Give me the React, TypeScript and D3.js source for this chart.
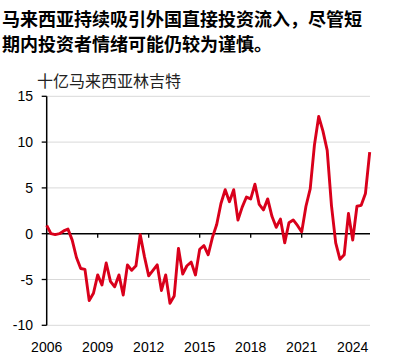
import React from "react";
import * as d3 from "d3";

const startYear = 2006;
const values: number[] = [
  0.9, 0.0, -0.1, 0.0, 0.3, 0.5, -0.7, -2.6, -3.8, -3.9,
  -7.3, -6.5, -4.5, -5.6, -3.2, -5.2, -5.8, -4.5, -6.7, -3.4,
  -4.0, -3.5, -0.1, -2.5, -4.6, -4.0, -3.4, -6.2, -4.5, -7.6,
  -6.8, -1.6, -4.4, -3.5, -3.1, -4.5, -1.7, -1.3, -2.3, -0.4,
  1.0, 3.3, 4.8, 3.5, 4.8, 1.5, 2.9, 4.0, 3.8, 5.4,
  3.2, 2.6, 3.8, 1.9, 0.7, 1.6, -1.0, 1.2, 1.5, 0.9,
  0.2, 3.0, 4.9, 9.7, 12.8, 11.2, 9.1, 3.1, -1.0, -2.8,
  -2.3, 2.2, -0.7, 3.0, 3.1, 4.4, 8.9,
];
const yTicks = [15, 10, 5, 0, -5, -10];
const xTicks = [2006, 2009, 2012, 2015, 2018, 2021, 2024];
const titleLines = ["马来西亚持续吸引外国直接投资流入，尽管短", "期内投资者情绪可能仍较为谨慎。"];
const unitLabel = "十亿马来西亚林吉特";

export default function App() {
  const W = 394, H = 359;
  const left = 46.7, right = 370, top = 96.3, bottom = 325.3;
  const x = d3.scaleLinear().domain([2006, 2025]).range([left, left + 17 * 19]);
  const y = d3.scaleLinear().domain([-10, 15]).range([bottom, top]);
  const line = d3
    .line<number>()
    .x((_, i) => x(startYear + i / 4))
    .y((d) => y(d))
    .curve(d3.curveLinear);
  const font = "'Liberation Sans', Arial, sans-serif";
  const cjk = "'Noto Sans CJK SC', sans-serif";
  return (
    <svg width={W} height={H} style={{ position: "absolute", left: 0, top: 0, background: "#fff" }}>
      {titleLines.map((t, i) => (
        <text key={i} x={2} y={26 + i * 25} fontFamily={cjk} fontWeight={700} fontSize={18} fill="#000">
          {t}
        </text>
      ))}
      <text x={37} y={87} fontFamily={cjk} fontSize={16} fill="#222">{unitLabel}</text>
      {yTicks.filter((v) => v !== 0).map((v) => (
        <line key={"g" + v} x1={left} x2={right} y1={y(v)} y2={y(v)} stroke="#d9d9d9" strokeWidth={1} />
      ))}
      {yTicks.map((v) => (
        <g key={"y" + v}>
          <line x1={left - 5} x2={left} y1={y(v)} y2={y(v)} stroke="#000" strokeWidth={1.3} />
          <text x={33} y={y(v) + 5} textAnchor="end" fontFamily={font} fontSize={14} fill="#000">{v}</text>
        </g>
      ))}
      <line x1={left} x2={left} y1={top} y2={bottom} stroke="#000" strokeWidth={1.5} />
      <line x1={left} x2={right} y1={y(0)} y2={y(0)} stroke="#000" strokeWidth={1.5} />
      {xTicks.map((v) => (
        <g key={"x" + v}>
          {v !== 2006 && <line x1={x(v)} x2={x(v)} y1={y(0)} y2={y(0) + 4} stroke="#000" strokeWidth={1.3} />}
          <text x={x(v)} y={352} textAnchor="middle" fontFamily={font} fontSize={14} fill="#000">{v}</text>
        </g>
      ))}
      <path d={line(values) || ""} fill="none" stroke="#d9001b" strokeWidth={2.9} strokeLinejoin="round" />
    </svg>
  );
}
